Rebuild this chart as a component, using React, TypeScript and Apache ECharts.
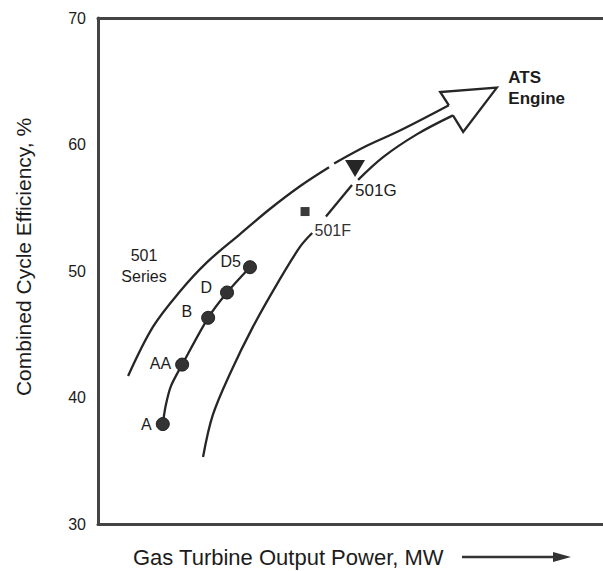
import React, { useEffect, useRef } from "react";
import * as echarts from "echarts";

// Y axis (combined cycle efficiency, %)
const yMin = 30;
const yMax = 70;
const yStep = 10;

// 501 series development points (x in arbitrary MW units, no scale shown)
const modelNames = ["A", "AA", "B", "D", "D5"];
const modelX = [12.7, 16.5, 21.6, 25.3, 29.8];
const modelY = [37.9, 42.6, 46.3, 48.3, 50.3];

// trend line through the 501 series points
const trendX = [12.7, 13.3, 14.3, 16.5, 21.6, 25.3, 29.8];
const trendY = [37.9, 39.4, 40.9, 42.6, 46.3, 48.3, 50.3];

// 501F and 501G
const f501 = [40.6, 54.7];
const g501 = [50.4, 58.1];

// upper envelope curve (two pieces, small gap)
const upperA: number[][] = [
  [5.9, 41.7], [10.8, 45.6], [16.1, 48.4], [21.4, 50.7], [27.8, 52.9],
  [33.7, 54.9], [39.6, 56.7], [45.3, 58.2],
];
const upperB: number[][] = [
  [46.3, 58.5], [52.7, 59.9], [59.2, 61.1], [68.8, 63.1],
];

// lower envelope curve (three pieces, broken at the labels)
const lowerA: number[][] = [
  [20.6, 35.3], [22.5, 38.6], [25.9, 41.9], [30.4, 45.6], [35.3, 49.1],
  [39.6, 51.9], [42.0, 53.0],
];
const lowerB: number[][] = [[44.7, 54.3], [49.8, 56.8]];
const lowerC: number[][] = [
  [51.0, 57.2], [55.9, 59.0], [62.5, 60.8], [69.6, 62.3],
];

// hollow arrow head (ATS Engine)
const arrowHead: number[][] = [
  [68.8, 63.1], [67.1, 64.15], [78.2, 64.5], [71.6, 61.0], [69.6, 62.3],
];
const atsTip = [78.2, 64.5];

const FONT = "'Liberation Sans', Arial, Helvetica, sans-serif";
const INK = "#262626";
const TEXT = "#1c1c1c";
const FRAME = "#444";
const GRID_W = 620;
const X_MAX = (100 * GRID_W) / 510;

export default function App() {
  const ref = useRef<HTMLDivElement>(null);

  useEffect(() => {
    if (!ref.current) return;
    const chart = echarts.init(ref.current, undefined, { renderer: "svg" });

    const curve = (name: string, data: number[][], smooth: number | boolean = 0.35) => ({
      name,
      type: "line",
      data,
      smooth,
      symbol: "none",
      lineStyle: { color: INK, width: 2.3 },
      silent: true,
      clip: false,
      z: 3,
    });

    const labelOffsets = [
      [0, 0],
      [0, -1],
      [-5, -6],
      [-4, -5],
      [2, -6],
    ];

    const hiddenX = {
      type: "value",
      min: 0,
      max: X_MAX,
      axisTick: { show: false },
      axisLabel: { show: false },
      splitLine: { show: false },
    };

    const option: any = {
      animation: false,
      backgroundColor: "#ffffff",
      grid: {
        left: 98,
        top: 18,
        width: GRID_W,
        height: 506,
        outerBoundsMode: "none",
        show: false,
      },
      xAxis: [
        {
          ...hiddenX,
          position: "bottom",
          axisLine: { show: true, lineStyle: { color: FRAME, width: 3 } },
        },
        {
          ...hiddenX,
          position: "top",
          axisLine: { show: true, lineStyle: { color: FRAME, width: 3 } },
        },
      ],
      yAxis: {
        type: "value",
        min: yMin,
        max: yMax,
        interval: yStep,
        axisLine: { show: true, lineStyle: { color: FRAME, width: 3 } },
        axisTick: { show: false },
        splitLine: { show: false },
        axisLabel: {
          color: TEXT,
          fontSize: 16,
          fontFamily: FONT,
          margin: 12,
        },
      },
      graphic: [
        {
          type: "rect",
          z: 100,
          shape: { x: 597, y: 20, width: 12, height: 502 },
          style: { fill: "#ffffff" },
          silent: true,
        },
        {
          type: "text",
          x: 23,
          y: 257,
          rotation: Math.PI / 2,
          style: {
            text: "Combined Cycle Efficiency, %",
            font: `21px ${FONT}`,
            fill: TEXT,
            align: "center",
            verticalAlign: "middle",
          },
        },
        {
          type: "text",
          x: 133,
          y: 557,
          style: {
            text: "Gas Turbine Output Power, MW",
            font: `22px ${FONT}`,
            fill: TEXT,
            align: "left",
            verticalAlign: "middle",
          },
        },
        {
          type: "line",
          shape: { x1: 462, y1: 557, x2: 558, y2: 557 },
          style: { stroke: "#333", lineWidth: 2.5 },
        },
        {
          type: "polygon",
          shape: { points: [[553, 552], [571, 557], [553, 562]] },
          style: { fill: "#333" },
        },
        {
          type: "text",
          x: 144,
          y: 266,
          style: {
            text: "501\nSeries",
            font: `16px ${FONT}`,
            fill: TEXT,
            align: "center",
            verticalAlign: "middle",
            lineHeight: 21,
          },
        },
      ],
      series: [
        curve("upperA", upperA),
        curve("upperB", upperB),
        curve("lowerA", lowerA),
        curve("lowerB", lowerB, false),
        curve("lowerC", lowerC),
        {
          name: "arrow",
          type: "line",
          data: arrowHead,
          smooth: false,
          symbol: "none",
          lineStyle: { color: INK, width: 2.3, join: "miter" },
          silent: true,
          clip: false,
          z: 3,
        },
        {
          name: "ATS Engine",
          type: "scatter",
          data: [{ value: atsTip, name: "ATS\nEngine" }],
          symbol: "circle",
          symbolSize: 1,
          itemStyle: { color: "transparent", opacity: 0 },
          label: {
            show: true,
            position: "right",
            distance: 11,
            formatter: "{b}",
            color: TEXT,
            fontFamily: FONT,
            fontWeight: "bold",
            fontSize: 17,
            lineHeight: 21,
            align: "left",
            opacity: 1,
          },
          silent: true,
          z: 4,
        },
        {
          name: "501 trend",
          type: "line",
          data: trendX.map((x, i) => [x, trendY[i]]),
          smooth: 0.3,
          symbol: "none",
          lineStyle: { color: INK, width: 2.3 },
          clip: false,
          z: 3,
        },
        {
          name: "501 models",
          type: "scatter",
          data: modelX.map((x, i) => ({
            value: [x, modelY[i]],
            name: modelNames[i],
            label: { offset: labelOffsets[i] },
          })),
          symbol: "circle",
          symbolSize: 13,
          itemStyle: { color: "#333", borderColor: "#1e1e1e", borderWidth: 1, opacity: 1 },
          label: {
            show: true,
            position: "left",
            distance: 4,
            formatter: "{b}",
            color: TEXT,
            fontFamily: FONT,
            fontSize: 16,
          },
          z: 4,
        },
        {
          name: "501F",
          type: "scatter",
          data: [{ value: f501, name: "501F" }],
          symbol: "rect",
          symbolSize: 9,
          itemStyle: { color: "#3a3a3a", opacity: 1 },
          label: {
            show: true,
            position: "right",
            distance: 5,
            offset: [0, 19],
            formatter: "{b}",
            color: "#333",
            fontFamily: FONT,
            fontSize: 16,
          },
          z: 4,
        },
        {
          name: "501G",
          type: "scatter",
          data: [{ value: g501, name: "501G" }],
          symbol: "triangle",
          symbolRotate: 180,
          symbolSize: [20, 17],
          itemStyle: { color: "#262626", opacity: 1 },
          label: {
            show: true,
            position: "right",
            distance: 5,
            offset: [-15, 22],
            formatter: "{b}",
            color: TEXT,
            fontFamily: FONT,
            fontSize: 17,
          },
          z: 4,
        },
      ],
    };

    chart.setOption(option);
    return () => chart.dispose();
  }, []);

  return (
    <div
      ref={ref}
      style={{
        position: "absolute",
        left: 0,
        top: 0,
        width: 603,
        height: 571,
        overflow: "hidden",
        background: "#fff",
      }}
    />
  );
}
